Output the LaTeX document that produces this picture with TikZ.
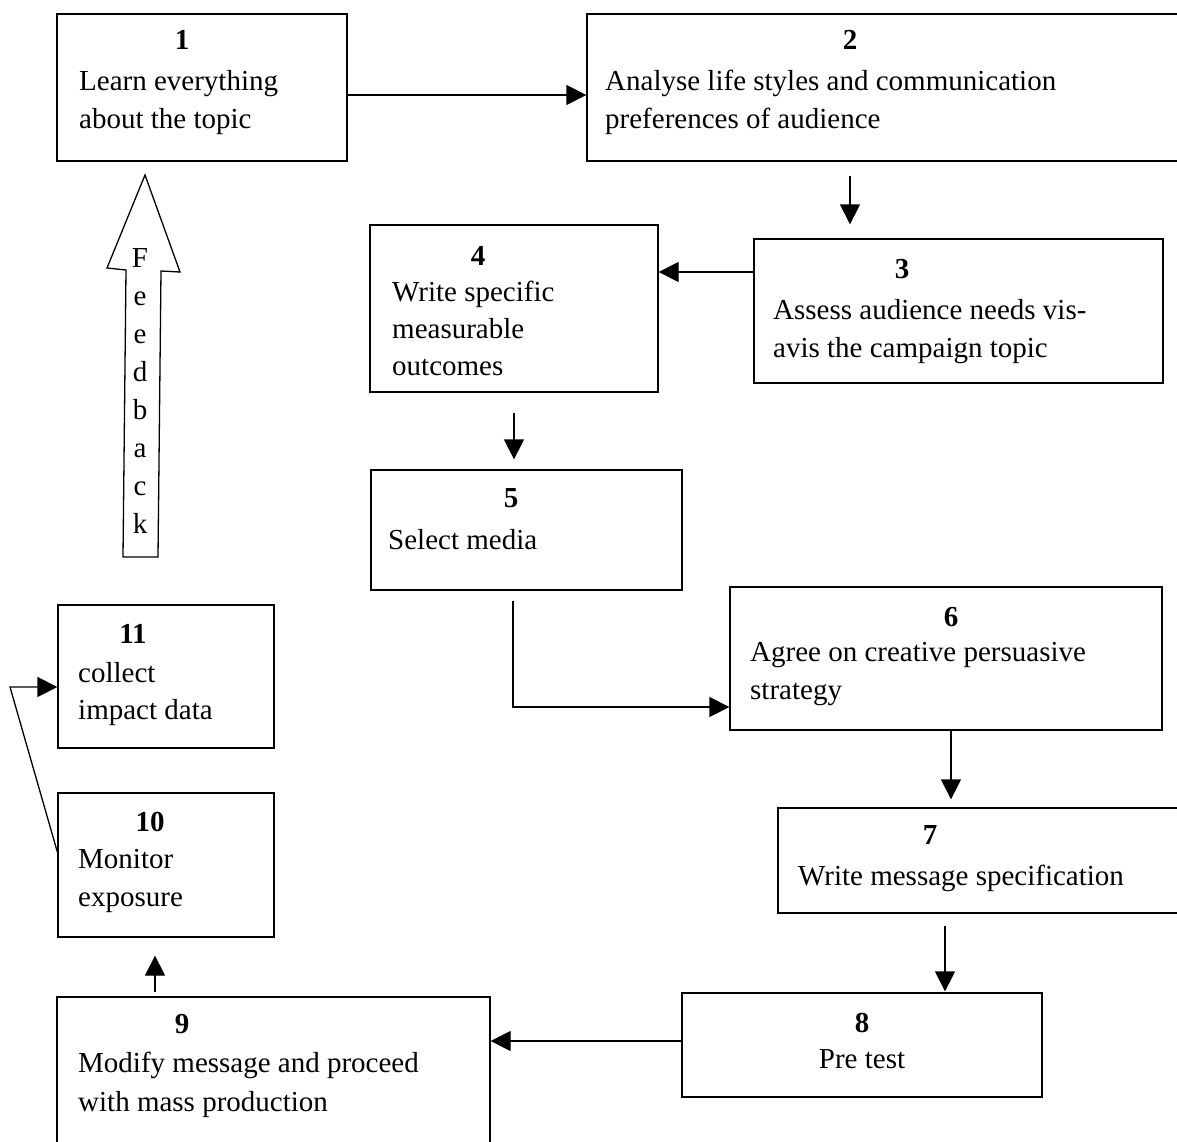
\documentclass[tikz,border=0pt]{standalone}
\usepackage{fontspec}
\setmainfont{Liberation Serif}
\usetikzlibrary{arrows.meta,fit}
\begin{document}
\begin{tikzpicture}[x=1pt,y=-1pt,
 box/.style={draw,line width=1.3pt,inner sep=0pt,rectangle},
 arr/.style={line width=1.3pt,-{Triangle[length=20pt,width=20pt]}},
 txt/.style={anchor=base west,inner sep=0pt,font=\fontsize{29}{38}\selectfont},
 num/.style={anchor=base,inner sep=0pt,font=\fontsize{29}{38}\selectfont\bfseries},
 ltr/.style={anchor=base,inner sep=0pt,font=\fontsize{29}{38}\selectfont},
 ]
\clip (0,0) rectangle (1177,1142);
\fill[white] (0,0) rectangle (1177,1142);
% boxes
\node[box,fit={(57,14)(347,161)}] (b1) {};
\node[box,fit={(587,14)(1190,161)}] (b2) {};
\node[box,fit={(754,239)(1163,383)}] (b3) {};
\node[box,fit={(370,225)(658,392)}] (b4) {};
\node[box,fit={(371,470)(682,590)}] (b5) {};
\node[box,fit={(730,587)(1162,730)}] (b6) {};
\node[box,fit={(778,808)(1190,913)}] (b7) {};
\node[box,fit={(682,993)(1042,1097)}] (b8) {};
\node[box,fit={(57,997)(490,1160)}] (b9) {};
\node[box,fit={(58,793)(274,937)}] (b10) {};
\node[box,fit={(58,605)(274,748)}] (b11) {};
% texts
\node[num] (n1) at (182,50) {1};
\node[txt] (t1a) at (79,91) {Learn everything};
\node[txt] (t1b) at (79,129) {about the topic};
\node[num] (n2) at (850,50) {2};
\node[txt] (t2a) at (605,91) {Analyse life styles and communication};
\node[txt] (t2b) at (605,129) {preferences of audience};
\node[num] (n3) at (902,278) {3};
\node[txt] (t3a) at (773,319) {Assess audience needs vis-};
\node[txt] (t3b) at (773,357) {avis the campaign topic};
\node[num] (n4) at (478,265) {4};
\node[txt] (t4a) at (392,301) {Write specific};
\node[txt] (t4b) at (392,338) {measurable};
\node[txt] (t4c) at (392,375) {outcomes};
\node[num] (n5) at (511,507) {5};
\node[txt] (t5a) at (388,549) {Select media};
\node[num] (n6) at (951,626) {6};
\node[txt] (t6a) at (750,661) {Agree on creative persuasive};
\node[txt] (t6b) at (750,699) {strategy};
\node[num] (n7) at (930,844) {7};
\node[txt] (t7a) at (798,885) {Write message specification};
\node[num] (n8) at (862,1032) {8};
\node[ltr] (t8a) at (862,1068) {Pre test};
\node[num] (n9) at (182,1033) {9};
\node[txt] (t9a) at (78,1072) {Modify message and proceed};
\node[txt] (t9b) at (78,1111) {with mass production};
\node[num] (n10) at (150,831) {10};
\node[txt] (t10a) at (78,868) {Monitor};
\node[txt] (t10b) at (78,906) {exposure};
\node[num] (n11) at (133,643) {11};
\node[txt] (t11a) at (78,682) {collect};
\node[txt] (t11b) at (78,719) {impact data};
% feedback arrow
\draw[line width=1.3pt,line join=miter,fill=white] (123,557) -- (126,270) -- (107,268) -- (145,175) -- (180,272) -- (161,271) -- (158,557) -- cycle;
\foreach \l/\yy [count=\i] in {F/267,e/305,e/343,d/381,b/419,a/457,c/495,k/533}
  \node[ltr] (fb\i) at (140,\yy) {\l};
% connectors
\draw[arr] (b1.east |- 0,95) -- (b2.west |- 0,95);
\draw[arr,shorten <=14pt,shorten >=14pt] (b2.south -| 850,0) -- (b3.north -| 850,0);
\draw[arr] (b3.west |- 0,272) -- (b4.east |- 0,272);
\draw[arr,shorten <=20pt,shorten >=10pt] (b4.south -| 514,0) -- (b5.north -| 514,0);
\draw[arr,shorten <=10pt] (b5.south -| 513,0) |- (b6.west |- 0,707);
\draw[arr,shorten >=8pt] (b6.south -| 951,0) -- (b7.north -| 951,0);
\draw[arr,shorten <=12pt,shorten >=1pt] (b7.south -| 945,0) -- (b8.north -| 945,0);
\draw[arr] (b8.west |- 0,1041) -- (b9.east |- 0,1041);
\draw[arr,shorten <=4pt,shorten >=18pt] (b9.north -| 155,0) -- (b10.south -| 155,0);
\coordinate (fbk) at (10,687);
\draw[arr] (b10.west |- 0,852) -- (fbk) -- (b11.west |- 0,687);
\end{tikzpicture}
\end{document}
